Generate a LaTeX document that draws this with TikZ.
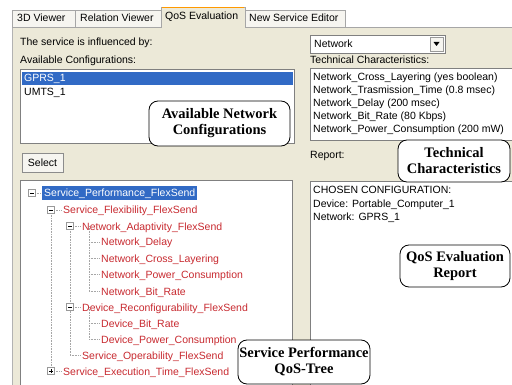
\documentclass[tikz,border=0pt]{standalone}
\usepackage{fontspec}
\setmainfont{Liberation Serif}
\newfontfamily\guifont{Liberation Sans}
\begin{document}
\definecolor{panel}{RGB}{236,233,216}
\definecolor{tabface}{RGB}{246,245,240}
\definecolor{selblue}{RGB}{49,106,197}
\definecolor{treered}{RGB}{200,42,48}
\definecolor{frame}{RGB}{128,128,128}
\begin{tikzpicture}[x=1pt,y=-1pt,
  gui/.style={font=\guifont\fontsize{10.5}{12}\selectfont, inner sep=0pt, anchor=base west},
  treeitem/.style={gui, text=treered},
  box/.style={draw=frame, fill=white, line width=0.8pt},
  callout/.style={draw=black, fill=white, rounded corners=9pt, line width=0.8pt,
    font=\bfseries\fontsize{14.5}{15}\selectfont, align=center, inner sep=0pt},
  treeline/.style={draw=gray!70, densely dotted, line width=0.6pt},
  expander/.style={draw=gray!80, fill=white, line width=0.5pt, minimum size=7pt, inner sep=0pt}]
\useasboundingbox (0,0) rectangle (512,385);
\fill[white] (0,0) rectangle (512,385);
% window panel below the tab strip
\fill[panel] (12,27) rectangle (512,385);
\draw[gray!60] (12,27) -- (12,385);
\draw[gray!70] (12,27) -- (161,27) (245,27) -- (512,27);
% tabs
\foreach \a/\b in {12/75, 75/161, 245/345}{
  \filldraw[fill=tabface, draw=gray!70] (\a,27) -- (\a,10) -- (\b,10) -- (\b,27);
}
\filldraw[fill=panel, draw=gray!70] (161,28) -- (161,7) -- (245,7) -- (245,28);
\draw[orange!80!yellow, line width=1.2pt] (162,7.5) -- (244,7.5);
\node[gui] (tab1) at (17,22) {3D Viewer};
\node[gui] (tab2) at (80,22) {Relation Viewer};
\node[gui] (tab3) at (165,20) {QoS Evaluation};
\node[gui] (tab4) at (249,22) {New Service Editor};

% left column
\node[gui] (influenced) at (20,46) {The service is influenced by:};
\node[gui] (availcfg) at (20,64) {Available Configurations:};
\draw[box] (20,69) rectangle (294,143);
\fill[selblue] (22,72) rectangle (293,85);
\node[gui, text=white] (gprs) at (24,82) {GPRS\_1};
\node[gui] (umts) at (24,96) {UMTS\_1};

\filldraw[fill=tabface, draw=gray!90] (22,153) rectangle (63,172);
\node[gui, anchor=center] (select) at (42.5,163) {Select};

\draw[box] (20,180) rectangle (292,390);
% tree connectors
\draw[treeline] (51,210) -- (51,371);
\draw[treeline] (70,226) -- (70,355) (70,355) -- (80,355);
\draw[treeline] (89,226) -- (89,291) (89,307) -- (89,339);
\foreach \y in {242,258,274,291,323,339}{\draw[treeline] (89,\y) -- (99,\y);}
\foreach \y in {226,307}{\draw[treeline] (70,\y) -- (80,\y);}
\foreach \y in {210,371}{\draw[treeline] (51,\y) -- (61,\y);}
\draw[treeline] (32,193) -- (42,193);
% expander boxes
\foreach \x/\y in {32/193, 51/210, 70/226, 70/307}{
  \node[expander] at (\x,\y) {};
  \draw[black, line width=0.5pt] (\x-2,\y) -- (\x+2,\y);
}
\node[expander] at (51,371) {};
\draw[black, line width=0.5pt] (49,371) -- (53,371) (51,369) -- (51,373);
% tree labels
\fill[selblue] (42,186) rectangle (197,200);
\node[gui, text=white] (root) at (44,197) {Service\_Performance\_FlexSend};
\node[treeitem] (flex) at (63,214) {Service\_Flexibility\_FlexSend};
\node[treeitem] (netadapt) at (82,230) {Network\_Adaptivity\_FlexSend};
\node[treeitem] (ndelay) at (101,246) {Network\_Delay};
\node[treeitem] (ncross) at (101,262) {Network\_Cross\_Layering};
\node[treeitem] (npower) at (101,278) {Network\_Power\_Consumption};
\node[treeitem] (nbit) at (101,295) {Network\_Bit\_Rate};
\node[treeitem] (devreconf) at (82,311) {Device\_Reconfigurability\_FlexSend};
\node[treeitem] (dbit) at (101,327) {Device\_Bit\_Rate};
\node[treeitem] (dpower) at (101,343) {Device\_Power\_Consumption};
\node[treeitem] (operab) at (82,359) {Service\_Operability\_FlexSend};
\node[treeitem] (exectime) at (63,375) {Service\_Execution\_Time\_FlexSend};

% right column
\draw[box] (310,35) rectangle (445,53);
\node[gui] (combo) at (314,48) {Network};
\filldraw[fill=tabface, draw=gray!80] (430,37) rectangle (443,51);
\fill[black] (433.5,42) -- (439.5,42) -- (436.5,46) -- cycle;
\node[gui] (techlabel) at (310,64) {Technical Characteristics:};
\draw[box] (310,68) rectangle (514,140);
\node[gui] (t1) at (313,81) {Network\_Cross\_Layering (yes boolean)};
\node[gui] (t2) at (313,94) {Network\_Trasmission\_Time (0.8 msec)};
\node[gui] (t3) at (313,107) {Network\_Delay (200 msec)};
\node[gui] (t4) at (313,120) {Network\_Bit\_Rate (80 Kbps)};
\node[gui] (t5) at (313,133) {Network\_Power\_Consumption (200 mW)};
\node[gui] (reportlabel) at (310,159) {Report:};
\draw[box] (310,181) rectangle (514,390);
\node[gui] (r1) at (313,194) {CHOSEN CONFIGURATION:};
\node[gui] (r2) at (313,208) {Device: Portable\_Computer\_1};
\node[gui] (r3) at (313,221) {Network: GPRS\_1};

% annotation callouts
\node[callout, minimum width=141pt, minimum height=45pt] (cNet) at (219.5,123.5)
  {Available Network\\[1pt]Configurations};
\node[callout, minimum width=112pt, minimum height=42pt] (cTech) at (454,161)
  {Technical\\[1pt]Characteristics};
\node[callout, minimum width=110pt, minimum height=42pt] (cQoS) at (455,266)
  {QoS Evaluation\\[1pt]Report};
\node[callout, minimum width=132pt, minimum height=44pt] (cTree) at (304,362)
  {Service Performance\\[1pt]QoS-Tree};
\end{tikzpicture}
\end{document}
